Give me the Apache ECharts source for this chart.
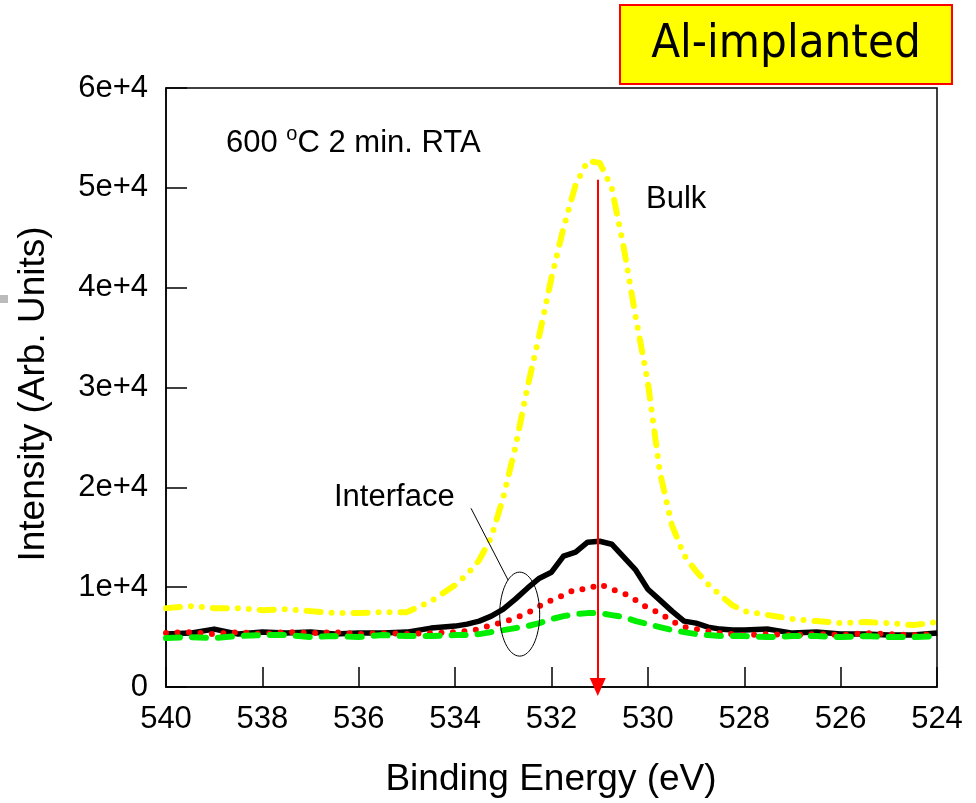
<!DOCTYPE html>
<html><head><meta charset="utf-8">
<script src="https://cdn.jsdelivr.net/npm/echarts@6/dist/echarts.min.js"></script>
<style>html,body{margin:0;padding:0;background:#fff}#c{width:976px;height:803px}</style>
</head><body><div id="c"></div>
<script>
const energy = [540,539.5,539,538.5,538,537.5,537,536.5,536,535.5,535,534.5,534,
 533.75,533.5,533.25,533,532.75,532.5,532.25,532,531.75,531.5,531.25,531,530.75,530.5,530.25,530,529.75,529.5,529.25,529,528.75,528.5,528.25,528,
 527.5,527,526.5,526,525.5,525,524.5,524];
const bulk = [7900,8100,7900,7900,7700,7800,7600,7400,7400,7500,7500,8600,10200,
 11300,12700,15000,19000,24000,30000,35300,41000,46000,50300,52700,52500,50000,44000,37000,30500,21500,16200,13200,11600,10300,9200,8200,7600,
 7200,6800,6600,6400,6500,6400,6200,6500];
const black = [5300,5400,5800,5300,5500,5400,5500,5300,5400,5400,5500,5900,6100,
 6300,6600,7100,7800,8800,9900,10900,11500,13100,13500,14500,14600,14300,13000,11700,9800,8700,7600,6600,6400,6000,5800,5700,5700,
 5800,5400,5500,5300,5300,5200,5200,5400];
const red = [5400,5500,5300,5500,5300,5500,5400,5500,5300,5400,5300,5400,5500,
 5600,5800,6200,6500,6900,7400,8100,8700,9200,9800,9800,10300,9800,9400,8700,7900,7400,6600,6000,5800,5600,5400,5300,5200,
 5300,5200,5300,5200,5400,5300,5200,5300];
const green = [4900,5000,4900,5100,5200,5200,5000,5100,5000,5200,5100,5100,5200,
 5200,5300,5500,5700,5900,6100,6400,6800,7100,7300,7400,7400,7200,7000,6600,6300,6000,5700,5500,5300,5200,5100,5100,5100,
 5000,5100,5100,5000,5100,5000,5000,5100];
const yTickLabels = ['0','1e+4','2e+4','3e+4','4e+4','5e+4','6e+4'];
const arrowX = 531.04, arrowTop = 50800;
const ellipseCenter = [532.66, 7300];
const leaderFrom = [533.67, 17900], leaderTo = [532.9, 10700];

const pair = arr => energy.map((e,i)=>[e, arr[i]]);
const chart = echarts.init(document.getElementById('c'));
const F = 'Liberation Sans, Arial, sans-serif';
chart.setOption({
  animation:false,
  grid:{left:166,right:39,top:88,bottom:116,show:true,borderColor:'#000',borderWidth:1.5,backgroundColor:'transparent'},
  xAxis:{type:'value',inverse:true,min:524,max:540,interval:2,
    axisLine:{lineStyle:{color:'#000',width:1.5}},
    axisTick:{inside:true,length:20,lineStyle:{color:'#000',width:1.5}},
    axisLabel:{fontFamily:F,fontSize:31,color:'#000',margin:17},
    splitLine:{show:false}},
  yAxis:{type:'value',min:0,max:60000,interval:10000,
    axisLine:{show:true,lineStyle:{color:'#000',width:1.5}},
    axisTick:{show:true,inside:true,length:21,lineStyle:{color:'#000',width:1.5}},
    axisLabel:{fontFamily:F,fontSize:31,color:'#000',margin:18,formatter:v=>yTickLabels[Math.round(v/10000)]},
    splitLine:{show:false}},
  series:[
    {type:'line',data:pair(bulk),showSymbol:false,lineStyle:{color:'#ffff00',width:6,type:[14,11,0,11,0,11],cap:'round',join:'round'}},
    {type:'line',data:pair(black),showSymbol:false,lineStyle:{color:'#000',width:5.5,join:'round'}},
    {type:'line',data:pair(red),showSymbol:false,lineStyle:{color:'#ff0000',width:6,type:[0,11.5],cap:'round'}},
    {type:'line',data:pair(green),showSymbol:false,lineStyle:{color:'#00ee00',width:6,type:[14,12],cap:'round'},
      markLine:{silent:true,symbol:['none','triangle'],symbolSize:[16,18],symbolRotate:180,label:{show:false},
        lineStyle:{color:'#ff0000',width:2,type:'solid'},
        data:[[{coord:[arrowX,arrowTop]},{coord:[arrowX,0]}]]}}
  ]
});
const c = chart.convertToPixel({gridIndex:0}, ellipseCenter);
const lf = chart.convertToPixel({gridIndex:0}, leaderFrom);
const lt = chart.convertToPixel({gridIndex:0}, leaderTo);
chart.setOption({graphic:[
  {type:'ellipse',shape:{cx:c[0],cy:c[1],rx:20,ry:42},style:{fill:'none',stroke:'#000',lineWidth:1},z:100},
  {type:'line',shape:{x1:lf[0],y1:lf[1],x2:lt[0],y2:lt[1]},style:{stroke:'#000',lineWidth:1},z:100},
  {type:'rect',shape:{x:620,y:5,width:332,height:79},style:{fill:'#ffff00',stroke:'#ff0000',lineWidth:2},z:100},
  {type:'text',x:786,y:45,style:{text:'Al-implanted',fontFamily:'DejaVu Sans Condensed, DejaVu Sans',fontSize:47,fill:'#000',align:'center',verticalAlign:'middle'},z:101},
  {type:'text',x:334,y:497,style:{text:'Interface',fontFamily:F,fontSize:31,fill:'#000',align:'left',verticalAlign:'middle'},z:101},
  {type:'text',x:646,y:199,style:{text:'Bulk',fontFamily:F,fontSize:31,fill:'#000',align:'left',verticalAlign:'middle'},z:101},
  {type:'text',x:226,y:143,style:{text:'{n|600 }{s|o}{n|C 2 min. RTA}',rich:{n:{fontFamily:F,fontSize:31,fill:'#000',verticalAlign:'middle'},s:{fontFamily:F,fontSize:20,fill:'#000',padding:[0,0,18,0]}},verticalAlign:'middle'},z:101},
  {type:'text',x:551,y:780,style:{text:'Binding Energy (eV)',fontFamily:F,fontSize:37,fill:'#000',align:'center',verticalAlign:'middle'},z:101},
  {type:'text',x:34,y:394,rotation:Math.PI/2,style:{text:'Intensity (Arb. Units)',fontFamily:F,fontSize:37,fill:'#000',align:'center',verticalAlign:'middle'},z:101},
  {type:'rect',shape:{x:0,y:295,width:8,height:8},style:{fill:'#bbbbbb'},z:100}
]});
</script></body></html>
